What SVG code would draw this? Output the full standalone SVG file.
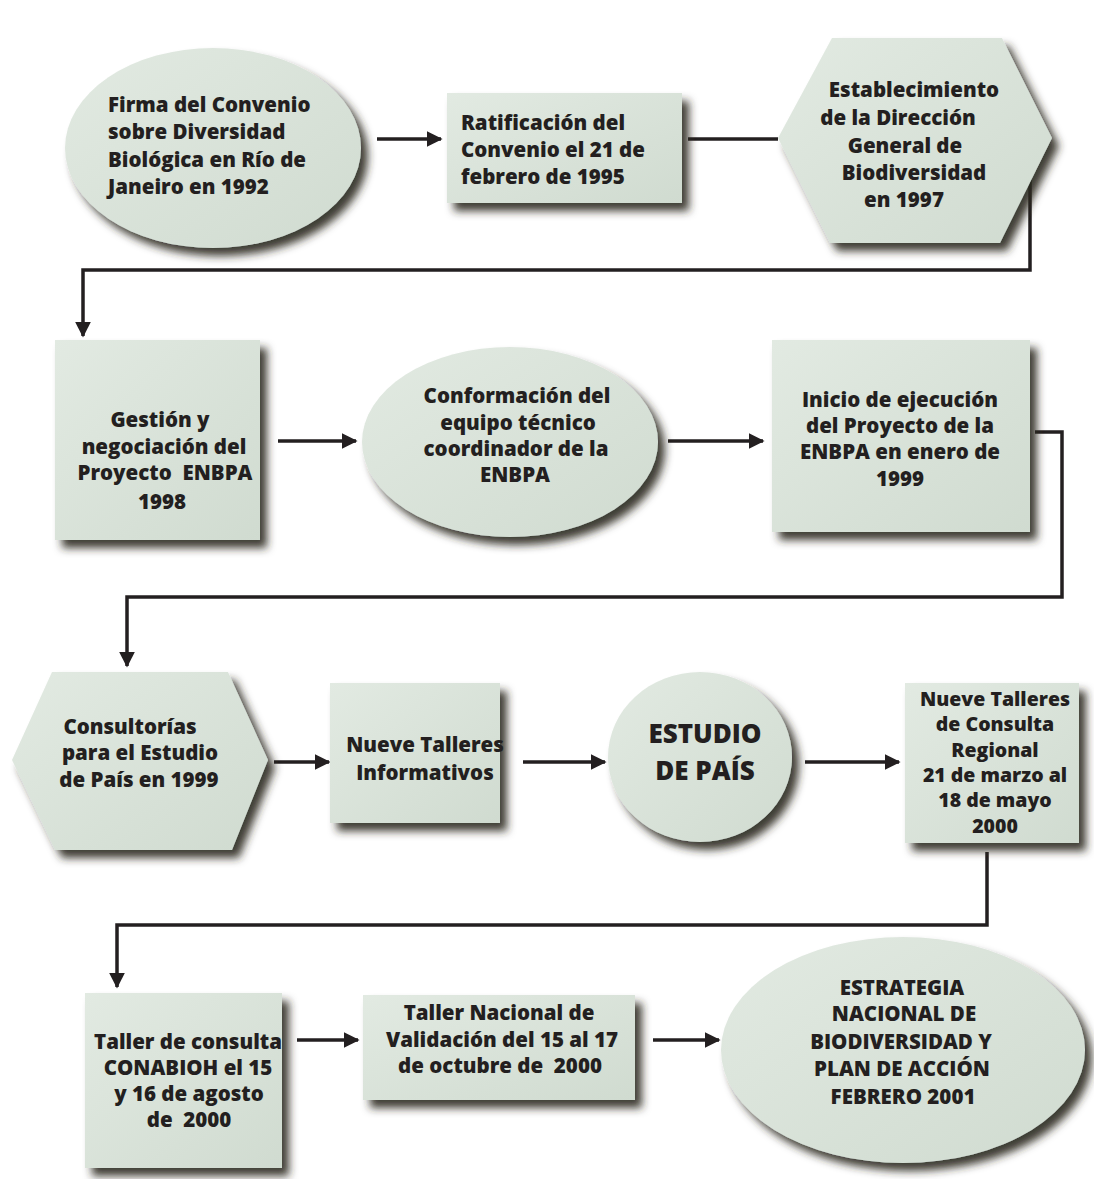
<svg xmlns="http://www.w3.org/2000/svg" width="1094" height="1179" viewBox="0 0 1094 1179">
<defs>
<style>
.n{fill:url(#g);filter:url(#sh)}
.t{font-family:"Open Sans","DejaVu Sans",sans-serif;font-weight:800;font-size:20.5px;fill:#231f20;text-anchor:middle;white-space:pre}
.l{text-anchor:start}
.big{font-size:26px}
.sm{font-size:19.5px}
.c{fill:none;stroke:#231f20;stroke-width:3.5}
.a{marker-end:url(#ah)}
</style>
<linearGradient id="g" x1="0" y1="0" x2="1" y2="1">
<stop offset="0" stop-color="#e2eae2"/>
<stop offset="1" stop-color="#d0dbd0"/>
</linearGradient>
<filter id="sh" x="-15%" y="-15%" width="135%" height="140%">
<feGaussianBlur in="SourceAlpha" stdDeviation="4" result="b"/>
<feOffset in="b" dx="7" dy="8" result="o"/>
<feFlood flood-color="#2b281e" flood-opacity="0.9"/>
<feComposite in2="o" operator="in" result="s"/>
<feMerge><feMergeNode in="s"/><feMergeNode in="SourceGraphic"/></feMerge>
</filter>
<marker id="ah" viewBox="0 0 10 10" refX="9" refY="5" markerWidth="16" markerHeight="16" markerUnits="userSpaceOnUse" orient="auto">
<path d="M0,0 L10,5 L0,10 z" fill="#231f20"/>
</marker>
</defs>
<rect width="1094" height="1179" fill="#ffffff"/>

<g id="connectors">
<line class="c a" x1="377" y1="139" x2="441" y2="139"/>
<line class="c" x1="688" y1="139" x2="778" y2="139"/>
<polyline class="c a" points="1030,178 1030,270 83,270 83,336"/>
<line class="c a" x1="278" y1="441" x2="356" y2="441"/>
<line class="c a" x1="668" y1="441" x2="763" y2="441"/>
<polyline class="c a" points="1035,432 1062,432 1062,597 127,597 127,666"/>
<line class="c a" x1="274" y1="762" x2="329" y2="762"/>
<line class="c a" x1="523" y1="762" x2="605" y2="762"/>
<line class="c a" x1="805" y1="762" x2="899" y2="762"/>
<polyline class="c a" points="987,852 987,925 117,925 117,987"/>
<line class="c a" x1="297" y1="1040" x2="358" y2="1040"/>
<line class="c a" x1="653" y1="1040" x2="719" y2="1040"/>
</g>

<g id="n1">
<ellipse class="n" cx="213" cy="148" rx="148" ry="100"/>
<text class="t l" x="108" y="112">Firma del Convenio</text>
<text class="t l" x="108" y="139">sobre Diversidad</text>
<text class="t l" x="108" y="167">Biológica en Río de</text>
<text class="t l" x="108" y="194">Janeiro en 1992</text>
</g>

<g id="n2">
<rect class="n" x="447" y="93" width="235" height="110"/>
<text class="t l" x="461" y="130">Ratificación del</text>
<text class="t l" x="461" y="157">Convenio el 21 de</text>
<text class="t l" x="461" y="184">febrero de 1995</text>
</g>

<g id="n3">
<polygon class="n" points="778,138 832,38 1002,38 1052,138 1000,243 830,243"/>
<text class="t" x="914" y="97">Establecimiento</text>
<text class="t" x="898" y="125">de la Dirección</text>
<text class="t" x="905" y="153">General de</text>
<text class="t" x="914" y="180">Biodiversidad</text>
<text class="t" x="904" y="207">en 1997</text>
</g>

<g id="n4">
<rect class="n" x="55" y="340" width="205" height="200"/>
<text class="t" x="160" y="427">Gestión y</text>
<text class="t" x="164" y="454">negociación del</text>
<text class="t" x="165" y="480">Proyecto  ENBPA</text>
<text class="t" x="162" y="509">1998</text>
</g>

<g id="n5">
<ellipse class="n" cx="510" cy="442" rx="148" ry="95"/>
<text class="t" x="517" y="403">Conformación del</text>
<text class="t" x="518" y="430">equipo técnico</text>
<text class="t" x="516" y="456">coordinador de la</text>
<text class="t" x="515" y="482">ENBPA</text>
</g>

<g id="n6">
<rect class="n" x="772" y="340" width="258" height="192"/>
<text class="t" x="900" y="407">Inicio de ejecución</text>
<text class="t" x="900" y="433">del Proyecto de la</text>
<text class="t" x="900" y="459">ENBPA en enero de</text>
<text class="t" x="900" y="486">1999</text>
</g>

<g id="n7">
<polygon class="n" points="12,760 52,672 228,672 268,760 232,850 55,850"/>
<text class="t" x="130" y="734">Consultorías</text>
<text class="t" x="140" y="760">para el Estudio</text>
<text class="t" x="139" y="787">de País en 1999</text>
</g>

<g id="n8">
<rect class="n" x="330" y="683" width="170" height="140"/>
<text class="t" x="425" y="752">Nueve Talleres</text>
<text class="t" x="425" y="780">Informativos</text>
</g>

<g id="n9">
<ellipse class="n" cx="700" cy="757" rx="92" ry="85"/>
<text class="t big" x="705" y="743">ESTUDIO</text>
<text class="t big" x="705" y="780">DE PAÍS</text>
</g>

<g id="n10">
<rect class="n" x="905" y="683" width="174" height="160"/>
<text class="t sm" x="995" y="706">Nueve Talleres</text>
<text class="t sm" x="995" y="731">de Consulta</text>
<text class="t sm" x="995" y="757">Regional</text>
<text class="t sm" x="995" y="782">21 de marzo al</text>
<text class="t sm" x="995" y="807">18 de mayo</text>
<text class="t sm" x="995" y="833">2000</text>
</g>

<g id="n11">
<rect class="n" x="85" y="993" width="197" height="175"/>
<text class="t" x="188" y="1049">Taller de consulta</text>
<text class="t" x="188" y="1075">CONABIOH el 15</text>
<text class="t" x="189" y="1101">y 16 de agosto</text>
<text class="t" x="189" y="1127">de  2000</text>
</g>

<g id="n12">
<rect class="n" x="363" y="995" width="272" height="105"/>
<text class="t" x="499" y="1020">Taller Nacional de</text>
<text class="t" x="502" y="1047">Validación del 15 al 17</text>
<text class="t" x="500" y="1073">de octubre de  2000</text>
</g>

<g id="n13">
<ellipse class="n" cx="903" cy="1050" rx="182" ry="113"/>
<text class="t" x="902" y="995">ESTRATEGIA</text>
<text class="t" x="904" y="1021">NACIONAL DE</text>
<text class="t" x="901" y="1049">BIODIVERSIDAD Y</text>
<text class="t" x="902" y="1076">PLAN DE ACCIÓN</text>
<text class="t" x="903" y="1104">FEBRERO 2001</text>
</g>
</svg>
